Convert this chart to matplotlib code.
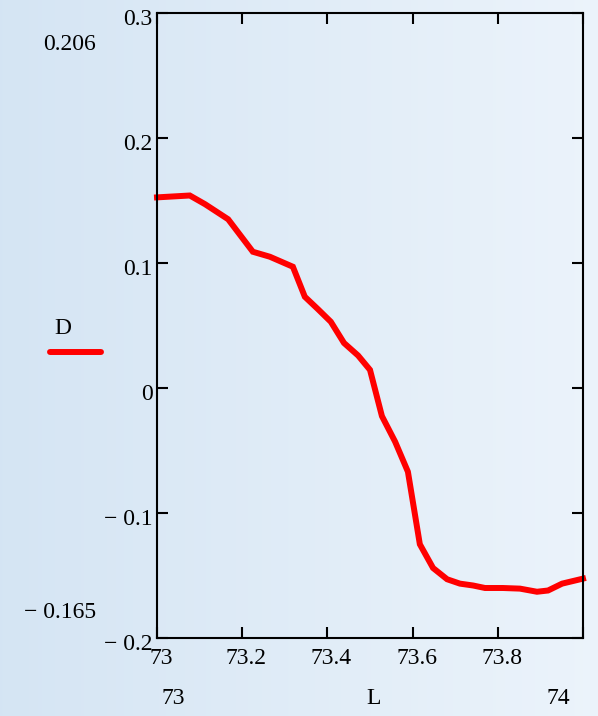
import numpy as np
import matplotlib.pyplot as plt
from matplotlib.transforms import ScaledTranslation

# curve
L = [73.000, 73.077, 73.113, 73.167, 73.225, 73.265, 73.319, 73.347, 73.378,
     73.408, 73.439, 73.472, 73.500, 73.528, 73.559, 73.589, 73.617, 73.648,
     73.681, 73.711, 73.742, 73.770, 73.812, 73.852, 73.892, 73.918, 73.951,
     74.000]
D = [0.1525, 0.154, 0.147, 0.135, 0.109, 0.105, 0.097, 0.073, 0.063,
     0.053, 0.036, 0.026, 0.0145, -0.0225, -0.043, -0.067, -0.125, -0.144,
     -0.153, -0.1565, -0.158, -0.160, -0.160, -0.1605, -0.163, -0.162, -0.1565,
     -0.1525]

xticks = [73, 73.2, 73.4, 73.6, 73.8, 74]
xlabels = ['73', '73.2', '73.4', '73.6', '73.8', '']
yticks = [0.3, 0.2, 0.1, 0, -0.1, -0.2]
ylabels = ['0.3', '0.2', '0.1', '0', '\u2212 0.1', '\u2212 0.2']

W, H = 598, 716
plt.rcParams['font.family'] = ['Liberation Serif', 'DejaVu Serif']

fig = plt.figure(figsize=(W / 100, H / 100), dpi=100)

# background gradient
bg = fig.add_axes([0, 0, 1, 1], zorder=-10)
grad = np.linspace(0, 1, 256).reshape(1, -1)
c0 = np.array([0.835, 0.898, 0.955])
c1 = np.array([0.925, 0.955, 0.985])
img = c0[None, None, :] * (1 - grad[..., None]) + c1[None, None, :] * grad[..., None]
bg.imshow(img, aspect='auto', extent=[0, 1, 0, 1])
bg.axis('off')

def px(x, y):
    return x / W, 1 - y / H

left, top, right, bottom = 157, 13, 583, 638
ax = fig.add_axes([left / W, 1 - bottom / H, (right - left) / W, (bottom - top) / H])
ax.set_facecolor('none')
ax.plot(L, D, color='#ff0000', lw=4.3, solid_joinstyle='miter', clip_on=False)
ax.set_xlim(73, 74)
ax.set_ylim(-0.2, 0.3)
ax.set_xticks(xticks)
ax.set_xticklabels(xlabels)
ax.set_yticks(yticks)
ax.set_yticklabels(ylabels)
ax.tick_params(direction='in', length=8, width=1.5, top=True, right=True,
               labelsize=17, color='black')
ax.tick_params(axis='x', pad=7)
ax.tick_params(axis='y', pad=3)
for s in ax.spines.values():
    s.set_linewidth(1.5)

# small offsets like the original layout
off_x = ScaledTranslation(4 / 100, 0, fig.dpi_scale_trans)
off_y = ScaledTranslation(0, -4 / 100, fig.dpi_scale_trans)
for t in ax.get_xticklabels():
    t.set_transform(t.get_transform() + off_x)
for t in ax.get_yticklabels():
    t.set_transform(t.get_transform() + off_y)

fs = 17
fig.text(*px(96, 45), '0.206', ha='right', va='center', fontsize=fs)
fig.text(*px(96, 612), '\u2212 0.165', ha='right', va='center', fontsize=fs)
fig.text(*px(173, 698), '73', ha='center', va='center', fontsize=fs)
fig.text(*px(374, 698), 'L', ha='center', va='center', fontsize=fs)
fig.text(*px(558, 698), '74', ha='center', va='center', fontsize=fs)
fig.text(*px(63, 328), 'D', ha='center', va='center', fontsize=fs)
fig.add_artist(plt.Line2D([50 / W, 101 / W], [1 - 352 / H, 1 - 352 / H],
                          color='#ff0000', lw=4.3, solid_capstyle='round'))

fig.savefig('out.png', dpi=100)
